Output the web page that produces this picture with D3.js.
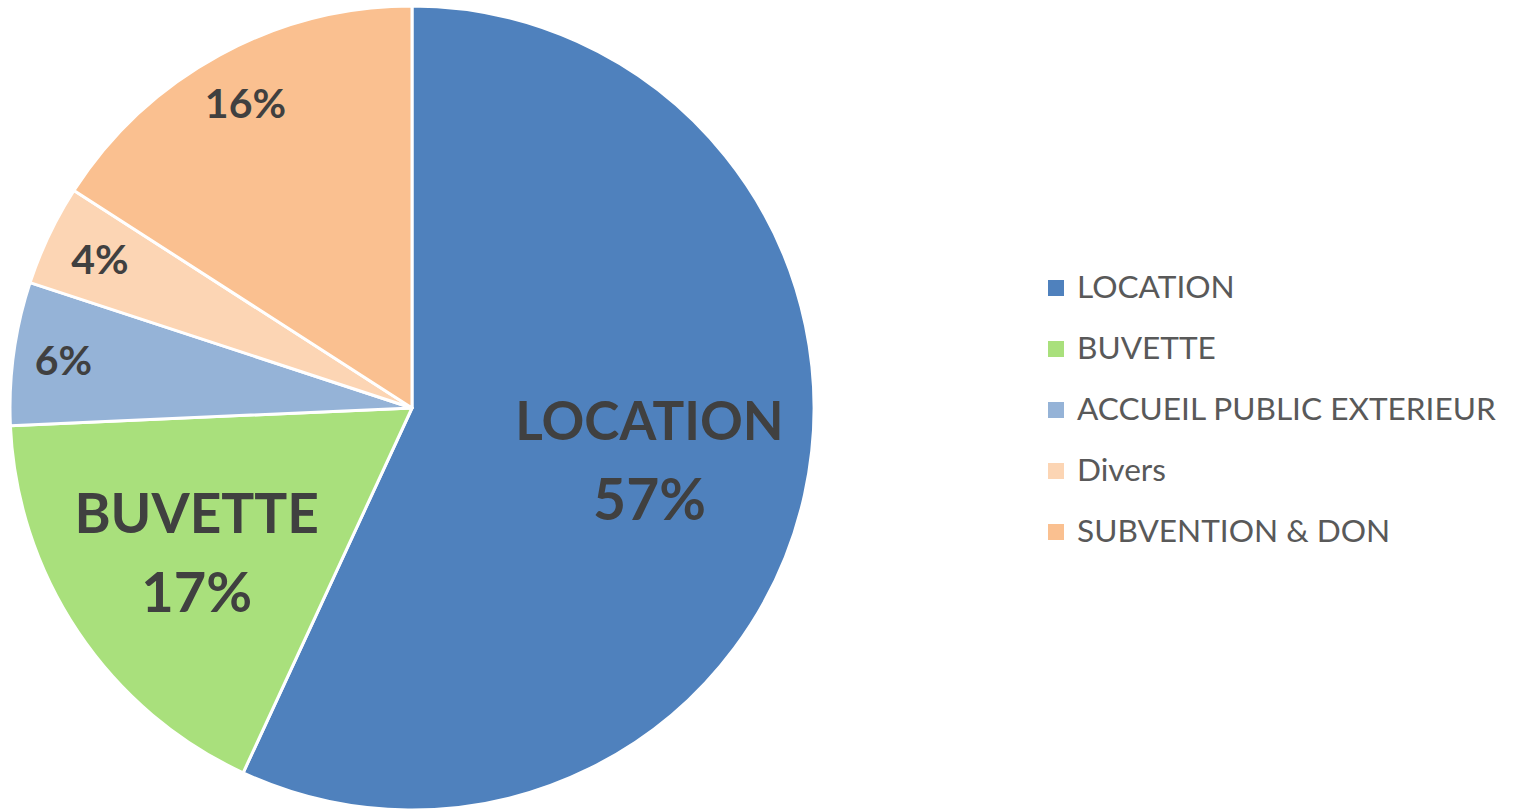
<!DOCTYPE html>
<html><head><meta charset="utf-8">
<script src="https://cdn.jsdelivr.net/npm/d3@7"></script>
<style>body{margin:0;background:#fff;} svg{display:block;}</style>
</head><body>
<svg id="chart" width="1517" height="810"></svg>
<script>
const categories = ["LOCATION", "BUVETTE", "ACCUEIL PUBLIC EXTERIEUR", "Divers", "SUBVENTION & DON"];
const values = [56.9, 17.4, 5.75, 4.05, 15.9];
const pctLabels = ["57%", "17%", "6%", "4%", "16%"];
const showCategoryInLabel = [true, true, false, false, false];

const colors = ["#4F81BD", "#A9E07C", "#95B3D7", "#FCD5B4", "#FAC090"];
const labelRadiusFrac = [0.605, 0.645, 0.875, 0.86, 0.865];
const labelSize = [57, 56, 41, 41, 41];
const catSize = [53, 55, 0, 0, 0];
const font = "Lato, 'Open Sans', sans-serif";

const svg = d3.select("#chart");
const cx = 412, cy = 408, R = 402;

const pie = d3.pie().sort(null).value(d => d.v);
const data = categories.map((c, i) => ({c, v: values[i], i}));
const arcs = pie(data);
const arc = d3.arc().innerRadius(0).outerRadius(R);

const g = svg.append("g").attr("transform", `translate(${cx},${cy})`);
g.selectAll("path").data(arcs).join("path")
  .attr("d", arc)
  .attr("fill", d => colors[d.data.i])
  .attr("stroke", "#fff").attr("stroke-width", 3).attr("stroke-linejoin", "round");

arcs.forEach(d => {
  const i = d.data.i;
  const lr = R * labelRadiusFrac[i];
  const c = d3.arc().innerRadius(lr).outerRadius(lr).centroid(d);
  const t = g.append("text")
    .attr("text-anchor", "middle")
    .attr("font-family", font).attr("font-weight", "bold")
    .attr("font-size", labelSize[i]).attr("fill", "#404040");
  if (showCategoryInLabel[i]) {
    const lh = 78;
    t.append("tspan").attr("x", c[0]).attr("y", c[1] - lh/2).attr("dy", "0.36em")
      .attr("font-size", catSize[i]).text(d.data.c);
    t.append("tspan").attr("x", c[0]).attr("y", c[1] + lh/2).attr("dy", "0.36em").text(pctLabels[i]);
  } else {
    t.attr("x", c[0]).attr("y", c[1]).attr("dy", "0.36em").text(pctLabels[i]);
  }
});

const legend = svg.append("g").attr("transform", "translate(1048,287)");
const rows = legend.selectAll("g").data(categories).join("g")
  .attr("transform", (d, i) => `translate(0,${i * 61})`);
rows.append("rect").attr("x", 0).attr("y", -7).attr("width", 16).attr("height", 16)
  .attr("fill", (d, i) => colors[i]);
rows.append("text").attr("x", 29).attr("y", 0).attr("dy", "0.36em")
  .attr("font-family", font).attr("font-size", 31.6).attr("fill", "#595959")
  .text(d => d);
</script>
</body></html>
